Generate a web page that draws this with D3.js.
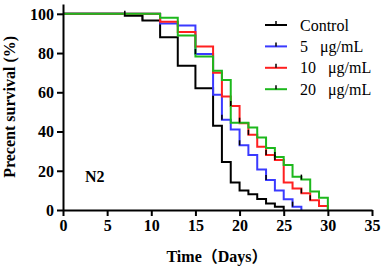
<!DOCTYPE html>
<html>
<head>
<meta charset="utf-8">
<script src="https://cdn.jsdelivr.net/npm/d3@7"></script>
<style>
  body { margin: 0; background: #fff; }
  svg { display: block; }
  .tick text { font-family: "Liberation Serif", "Times New Roman", serif; font-weight: bold; font-size: 16px; fill: #000; }
</style>
</head>
<body>
<svg></svg>
<script>
// survival steps (day, % surviving)
const controlDays = [0, 7, 9, 11, 13, 15, 17, 18, 19, 20, 21, 22, 23, 24, 25];
const controlSurv = [100, 99, 96.6, 88, 73.5, 62, 43, 24.5, 14, 10, 8, 5.6, 3.3, 1.7, 0];
const controlCensor = [7, 9];

const dose5Days = [0, 11, 13, 15, 17, 18, 19, 20, 21, 22, 23, 24, 25, 26, 27];
const dose5Surv = [100, 95, 94, 79.5, 58.7, 46, 41, 33, 28, 20.6, 15.3, 10, 5.5, 1.7, 0];
const dose5Censor = [15, 18, 20, 23, 26];

const dose10Days = [0, 11, 13, 15, 17, 18, 19, 20, 21, 22, 23, 24, 25, 26, 27, 28, 29, 30];
const dose10Surv = [100, 96, 90.7, 83.3, 70, 57.8, 53, 44.2, 38.3, 32.3, 28, 25.5, 14, 11, 8.5, 5, 2, 0];
const dose10Censor = [19, 21, 23, 24, 27, 28];

const dose20Days = [0, 11, 13, 15, 17, 18, 19, 21, 22, 23, 24, 25, 26, 27, 28, 29, 30];
const dose20Surv = [100, 98, 89, 78.2, 71, 66.3, 44.5, 42, 37, 31.6, 27, 23, 17, 15.5, 9.4, 6.3, 0];
const dose20Censor = [20, 24, 27];

const seriesNames = ["Control", "5   μg/mL", "10   μg/mL", "20   μg/mL"];
const seriesColors = ["#000000", "#3a3aff", "#ff2020", "#1db81d"];
const xTicks = [0, 5, 10, 15, 20, 25, 30, 35];
const yTicks = [0, 20, 40, 60, 80, 100];

const series = [
    { name: seriesNames[0], days: controlDays, surv: controlSurv, censor: controlCensor, color: seriesColors[0] },
    { name: seriesNames[1], days: dose5Days, surv: dose5Surv, censor: dose5Censor, color: seriesColors[1] },
    { name: seriesNames[2], days: dose10Days, surv: dose10Surv, censor: dose10Censor, color: seriesColors[2] },
    { name: seriesNames[3], days: dose20Days, surv: dose20Surv, censor: dose20Censor, color: seriesColors[3] }
];

drawChart();

function survAt(s, t) {
    let v = s.surv[0];
    s.days.forEach((d, i) => { if (d <= t) v = s.surv[i]; });
    return v;
}

function drawChart() {
    const width = 383, height = 270;
    const margin = { top: 4, right: 11, bottom: 60, left: 63 };
    const serif = '"Liberation Serif", "Times New Roman", "Noto Sans CJK SC", serif';

    const svg = d3.select("svg")
        .attr("width", width)
        .attr("height", height);

    const x = d3.scaleLinear()
        .domain([0, 35])
        .range([margin.left, width - margin.right]);

    const y = d3.scaleLinear()
        .domain([0, 105])
        .range([height - margin.bottom, margin.top]);

    const line = d3.line()
        .x(d => x(d[0]))
        .y(d => y(d[1]))
        .curve(d3.curveStepAfter);

    // draw control first so coloured lines sit on top
    series.forEach(s => {
        const pts = s.days.map((d, i) => [d, s.surv[i]]);
        svg.append("path")
            .datum(pts)
            .attr("fill", "none")
            .attr("stroke", s.color)
            .attr("stroke-width", 2)
            .attr("d", line);
    });

    series.forEach(s => {
        svg.selectAll(null)
            .data(s.censor)
            .enter()
            .append("line")
            .attr("x1", d => x(d))
            .attr("x2", d => x(d))
            .attr("y1", d => y(survAt(s, d)))
            .attr("y2", d => y(survAt(s, d)) - 5)
            .attr("stroke", "#000")
            .attr("stroke-width", 1.5);
    });

    const xAxis = svg.append("g")
        .attr("transform", `translate(0,${height - margin.bottom})`)
        .call(d3.axisBottom(x).tickValues(xTicks).tickSize(6).tickSizeOuter(0).tickPadding(4));

    const yAxis = svg.append("g")
        .attr("transform", `translate(${margin.left},0)`)
        .call(d3.axisLeft(y).tickValues(yTicks).tickSize(6).tickSizeOuter(0).tickPadding(3));

    [xAxis, yAxis].forEach(g => {
        g.select(".domain").attr("stroke", "#000").attr("stroke-width", 2);
        g.selectAll(".tick line").attr("stroke", "#000").attr("stroke-width", 2);
    });
    yAxis.selectAll(".tick text").attr("dy", "0.34em");

    svg.append("text")
        .attr("transform", `translate(15,${(y(0) + y(100)) / 2 - 5}) rotate(-90)`)
        .attr("text-anchor", "middle")
        .style("font-family", serif)
        .style("font-weight", "bold")
        .style("font-size", "16px")
        .text("Precent survival (%)");

    svg.append("text")
        .attr("x", 217)
        .attr("y", 262)
        .attr("text-anchor", "middle")
        .style("font-family", serif)
        .style("font-weight", "bold")
        .style("font-size", "16px")
        .text("Time（Days）");

    svg.append("text")
        .attr("x", 85)
        .attr("y", 181.5)
        .style("font-family", serif)
        .style("font-weight", "bold")
        .style("font-size", "16px")
        .text("N2");

    drawLegend(svg, serif);
}

function drawLegend(svg, serif) {
    const legend = svg.append("g")
        .attr("transform", "translate(265,25)");

    legend.selectAll(".legend-item")
        .data(series)
        .enter()
        .append("g")
        .attr("class", "legend-item")
        .attr("transform", (d, i) => `translate(0,${i * 21.4})`)
        .each(function(d) {
            const g = d3.select(this);
            g.append("line")
                .attr("x1", 0).attr("x2", 22)
                .attr("y1", 0).attr("y2", 0)
                .attr("stroke", d.color)
                .attr("stroke-width", 2);
            g.append("line")
                .attr("x1", 11).attr("x2", 11)
                .attr("y1", 0).attr("y2", -4)
                .attr("stroke", "#000")
                .attr("stroke-width", 1.5);
            g.append("text")
                .attr("x", 35)
                .attr("y", 5.5)
                .style("font-family", serif)
                .style("font-size", "16px")
                .style("white-space", "pre")
                .text(d.name);
        });
}
</script>
</body>
</html>
